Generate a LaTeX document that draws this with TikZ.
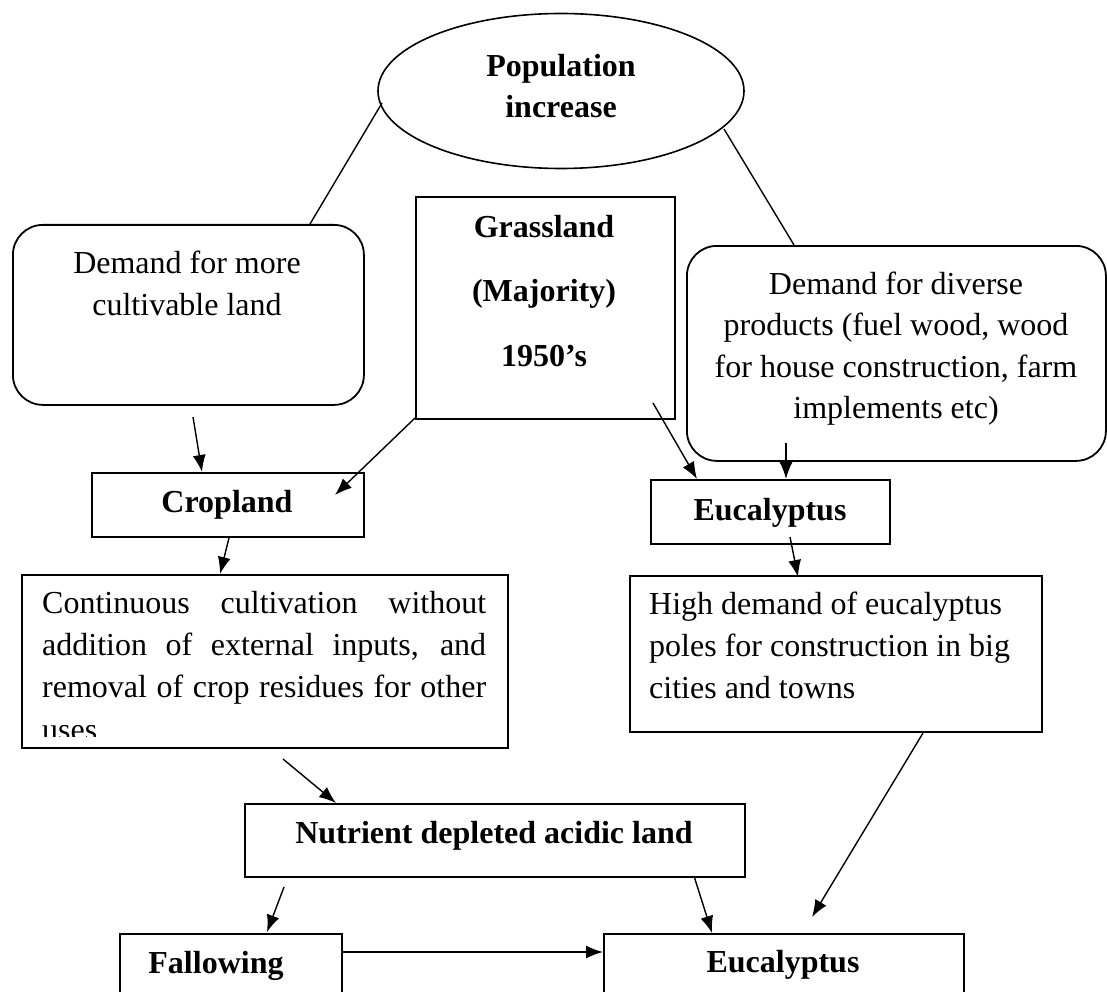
\documentclass[tikz,border=0pt]{standalone}
\usepackage{fontspec}
\setmainfont{Liberation Serif}
\usetikzlibrary{shapes.geometric,arrows.meta}
\tikzset{
  box/.style={draw, line width=1.8pt, rectangle, inner sep=0pt, anchor=north west},
  rbox/.style={box, rounded corners=30pt},
  ln/.style={line width=1.4pt},
  arr/.style={ln, -{Latex[length=17pt,width=13pt]}},
  txt/.style={inner sep=0pt, font=\fontsize{32}{42}\selectfont},
  btxt/.style={inner sep=0pt, font=\fontsize{32}{42}\selectfont\bfseries},
}
\begin{document}
\begin{tikzpicture}[x=1pt,y=-1pt]
\useasboundingbox (0,0) rectangle (1107,992);
\clip (0,0) rectangle (1107,992);

% ---- shapes ----
\node[draw, ellipse, line width=1.6pt, minimum width=366pt, minimum height=155pt, inner sep=0pt] (pop) at (561,91) {};
\node[rbox, minimum width=351pt, minimum height=180pt] (dl) at (12,224) {};
\node[box, minimum width=259pt, minimum height=222pt] (gr) at (415,196) {};
\node[rbox, minimum width=419pt, minimum height=215pt] (dd) at (686,245) {};
\node[box, minimum width=272pt, minimum height=64pt] (crop) at (91,472) {};
\node[box, minimum width=239pt, minimum height=64pt] (euc1) at (650,479) {};
\node[box, minimum width=486pt, minimum height=173pt] (cont) at (21,574) {};
\node[box, minimum width=412pt, minimum height=156pt] (high) at (629,575) {};
\node[box, minimum width=500pt, minimum height=73pt] (nut) at (244,803) {};
\node[box, minimum width=222pt, minimum height=110pt] (fal) at (119,933) {};
\node[box, minimum width=360pt, minimum height=110pt] (euc2) at (603,933) {};

% ---- texts ----
\node[btxt, anchor=base, font=\fontsize{32}{41}\selectfont\bfseries] (tpop) at (561,77) {\parbox[t]{320pt}{\centering Population\\increase}};
\node[txt, anchor=base] (tdl) at (187,273) {\parbox[t]{330pt}{\centering Demand for more\\cultivable land}};
\node[btxt, anchor=base] (tgr1) at (544,237) {Grassland};
\node[btxt, anchor=base] (tgr2) at (544,301) {(Majority)};
\node[btxt, anchor=base] (tgr3) at (544,366) {1950’s};
\node[txt, anchor=base, font=\fontsize{32}{41.5}\selectfont] (tdd) at (896,294) {\parbox[t]{400pt}{\centering Demand for diverse\\products (fuel wood, wood\\for house construction, farm\\implements etc)}};
\node[btxt, anchor=base] (tcrop) at (227,512) {Cropland};
\node[btxt, anchor=base] (teuc1) at (770,520) {Eucalyptus};
\node[txt, anchor=base west] (tc1) at (42,613) {\makebox[444pt][s]{Continuous cultivation without}};
\node[txt, anchor=base west] (tc2) at (42,655.3) {\makebox[444pt][s]{addition of external inputs, and}};
\node[txt, anchor=base west] (tc3) at (42,697.6) {\makebox[444pt][s]{removal of crop residues for other}};
\begin{scope}
\clip (0,0) rectangle (1107,736);
\node[txt, anchor=base west] (tc4) at (42,740) {uses};
\end{scope}
\node[txt, anchor=base west] (th) at (649,614) {\parbox[t]{390pt}{High demand of eucalyptus\\poles for construction in big\\cities and towns}};
\node[btxt, anchor=base] (tnut) at (494,843) {Nutrient depleted acidic land};
\node[btxt, anchor=base] (tfal) at (216,973) {Fallowing};
\node[btxt, anchor=base] (teuc2) at (783,972) {Eucalyptus};

% ---- connector end points ----
\coordinate (p1) at (382,103);
\coordinate (p2) at (310,224);
\coordinate (p3) at (724,129);
\coordinate (p4) at (794,245);
\coordinate (a1s) at (193,417);
\coordinate (a1e) at (202,472);
\coordinate (a2s) at (415,418);
\coordinate (a2e) at (335,495);
\coordinate (a3s) at (653,403);
\coordinate (a3e) at (697,479);
\coordinate (a4s) at (786,443);
\coordinate (a4e) at (786,479);
\coordinate (a5s) at (229,538);
\coordinate (a5e) at (220,574);
\coordinate (a6s) at (790,537);
\coordinate (a6e) at (798,577);
\coordinate (a7s) at (283,759);
\coordinate (a7e) at (336,803);
\coordinate (a8s) at (923,733);
\coordinate (a8e) at (812,917);
\coordinate (a9s) at (284,887);
\coordinate (a9e) at (267,932);
\coordinate (a10s) at (694,876);
\coordinate (a10e) at (712,933);
\coordinate (a11s) at (341,952);
\coordinate (a11e) at (603,952);

% ---- connectors ----
\draw[ln] (p1) -- (p2);
\draw[ln] (p3) -- (p4);
\draw[arr] (a1s) -- (a1e);
\draw[arr] (a2s) -- (a2e);
\draw[arr] (a3s) -- (a3e);
\draw[arr] (a4s) -- (a4e);
\draw[arr] (a5s) -- (a5e);
\draw[arr] (a6s) -- (a6e);
\draw[arr] (a7s) -- (a7e);
\draw[arr] (a8s) -- (a8e);
\draw[arr] (a9s) -- (a9e);
\draw[arr] (a10s) -- (a10e);
\draw[arr] (a11s) -- (a11e);
\end{tikzpicture}
\end{document}
